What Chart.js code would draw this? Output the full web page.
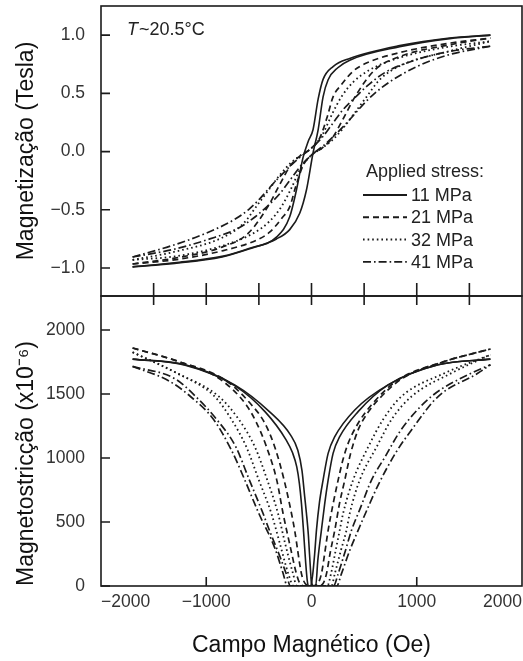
<!DOCTYPE html>
<html><head><meta charset="utf-8">
<script src="https://cdn.jsdelivr.net/npm/chart.js@4.4.0/dist/chart.umd.min.js"></script>
<style>
html,body{margin:0;padding:0;background:#fff;}
#wrap{position:relative;width:523px;height:661px;background:#fff;}
canvas{position:absolute;left:0;top:0;}
</style>
</head><body>
<div id="wrap"><canvas id="cBot" width="523" height="661"></canvas><canvas id="cTop" width="523" height="661"></canvas></div>
<script>
// ---------- data ----------
const stressLabels = ['11 MPa', '21 MPa', '32 MPa', '41 MPa'];
const xTickValues = [-2000, -1000, 0, 1000, 2000];
const xDividerTicks = [-1500, -1000, -500, 0, 500, 1000, 1500];
const xBottomTicks = [-1000, 0, 1000];
const magTickValues = [-1, -0.5, 0, 0.5, 1];
const lamTickValues = [0, 500, 1000, 1500, 2000];

// Magnetization (Tesla) vs field (Oe): descending (down) and ascending (up) branches
const magH11Down = [-1700, -1300, -850, -587, -333, -207, -143, -80, -30, 15, 63, 110, 205, 363, 838, 1313, 1700];
const magM11Down = [-0.99, -0.955, -0.90, -0.83, -0.735, -0.56, -0.33, -0.05, 0.09, 0.19, 0.45, 0.62, 0.73, 0.80, 0.91, 0.975, 1.00];
const magH11Up = [-1700, -1300, -850, -587, -333, -207, -112, -48, 15, 63, 110, 158, 250, 363, 838, 1313, 1700];
const magM11Up = [-0.99, -0.96, -0.905, -0.835, -0.75, -0.67, -0.53, -0.33, -0.01, 0.187, 0.47, 0.617, 0.72, 0.785, 0.90, 0.97, 1.00];

const magH21Down = [-1700, -1300, -850, -600, -413, -300, -200, -100, 0, 80, 150, 205, 284, 395, 522, 838, 1282, 1700];
const magM21Down = [-0.965, -0.915, -0.82, -0.70, -0.47, -0.28, -0.12, -0.03, 0.03, 0.12, 0.30, 0.47, 0.574, 0.69, 0.76, 0.85, 0.927, 0.975];
const magH21Up = [-1700, -1282, -838, -522, -395, -284, -205, -150, -80, 0, 100, 200, 300, 413, 600, 850, 1300, 1700];
const magM21Up = [-0.965, -0.927, -0.85, -0.76, -0.69, -0.574, -0.47, -0.30, -0.12, -0.03, 0.03, 0.12, 0.28, 0.47, 0.70, 0.82, 0.915, 0.975];

const magH32Down = [-1700, -1300, -850, -650, -523, -400, -300, -200, -100, 0, 100, 200, 284, 400, 550, 850, 1300, 1700];
const magM32Down = [-0.93, -0.86, -0.74, -0.62, -0.47, -0.32, -0.20, -0.10, -0.03, 0.03, 0.14, 0.33, 0.47, 0.60, 0.70, 0.81, 0.90, 0.947];
const magH32Up = [-1700, -1300, -850, -550, -400, -284, -200, -100, 0, 100, 200, 300, 400, 523, 650, 850, 1300, 1700];
const magM32Up = [-0.93, -0.90, -0.81, -0.70, -0.60, -0.47, -0.33, -0.14, -0.03, 0.03, 0.10, 0.20, 0.32, 0.47, 0.62, 0.74, 0.86, 0.947];

const magH41Down = [-1700, -1300, -1000, -745, -600, -518, -328, -138, 0, 100, 200, 300, 420, 550, 700, 966, 1313, 1700];
const magM41Down = [-0.905, -0.80, -0.70, -0.59, -0.50, -0.43, -0.24, -0.07, 0.03, 0.12, 0.24, 0.36, 0.47, 0.58, 0.68, 0.78, 0.86, 0.905];
const magH41Up = [-1700, -1313, -966, -700, -550, -420, -300, -200, -100, 0, 138, 328, 518, 600, 745, 1000, 1300, 1700];
const magM41Up = [-0.905, -0.84, -0.75, -0.66, -0.57, -0.47, -0.36, -0.24, -0.12, -0.03, 0.07, 0.24, 0.43, 0.50, 0.60, 0.73, 0.83, 0.905];

// Magnetostriction (x10^-6) vs field (Oe)
const lamH11Down = [-1700, -1200, -730, -440, -240, -180, -140, -115, -95, -75, -55, -40, -30, -10, 10, 30, 47, 75, 110, 158, 221, 411, 728, 1203, 1700];
const lamV11Down = [1772, 1725, 1565, 1360, 1140, 1040, 930, 800, 640, 420, 180, 40, 0, 0, 80, 250, 435, 650, 827, 1036, 1166, 1375, 1571, 1728, 1772];
const lamH11Up = [-1700, -1200, -730, -400, -200, -130, -90, -65, -48, -30, -17, 0, 20, 40, 60, 94, 125, 158, 205, 268, 443, 728, 1203, 1700];
const lamV11Up = [1772, 1728, 1571, 1362, 1180, 1060, 900, 700, 566, 400, 226, 30, 0, 0, 200, 435, 640, 827, 1036, 1166, 1362, 1571, 1728, 1772];

const lamH21Down = [-1700, -1266, -860, -620, -520, -428, -330, -270, -200, -143, -110, -60, 0, 60, 94, 130, 158, 205, 253, 300, 348, 443, 569, 822, 1266, 1700];
const lamV21Down = [1859, 1754, 1610, 1414, 1271, 1088, 827, 566, 300, 95, 20, 0, 0, 20, 95, 280, 435, 640, 827, 990, 1114, 1271, 1414, 1610, 1754, 1851];
const lamH21Up = [-1700, -1266, -822, -569, -443, -350, -260, -190, -160, -95, -60, 0, 60, 110, 142, 180, 221, 265, 316, 370, 443, 540, 664, 860, 1266, 1700];
const lamV21Up = [1859, 1754, 1610, 1414, 1271, 1088, 827, 566, 435, 95, 20, 0, 0, 20, 95, 270, 435, 640, 827, 1030, 1219, 1360, 1480, 1620, 1754, 1851];

const lamH32Down = [-1700, -1280, -920, -760, -620, -500, -381, -300, -220, -170, -60, 60, 150, 185, 230, 268, 300, 395, 540, 680, 854, 1266, 1700];
const lamV32Down = [1826, 1663, 1480, 1300, 1088, 827, 566, 330, 95, 0, 0, 0, 0, 95, 280, 435, 566, 827, 1088, 1300, 1480, 1663, 1806];
const lamH32Up = [-1700, -1280, -880, -690, -539, -420, -318, -250, -175, -140, -40, 80, 190, 221, 280, 332, 363, 458, 620, 760, 950, 1330, 1700];
const lamV32Up = [1826, 1663, 1480, 1300, 1088, 827, 566, 330, 95, 0, 0, 0, 0, 95, 280, 435, 566, 827, 1088, 1300, 1480, 1663, 1806];

const lamH41Down = [-1700, -1350, -1150, -930, -760, -640, -500, -350, -270, -230, -100, 50, 210, 253, 320, 380, 460, 570, 700, 850, 1139, 1520, 1700];
const lamV41Down = [1715, 1600, 1480, 1300, 1060, 840, 566, 300, 100, 0, 0, 0, 0, 95, 270, 435, 600, 827, 1010, 1219, 1480, 1663, 1728];
const lamH41Up = [-1700, -1300, -1100, -900, -720, -590, -460, -400, -300, -240, -200, -60, 100, 240, 284, 360, 443, 530, 640, 800, 950, 1203, 1583, 1700];
const lamV41Up = [1715, 1620, 1480, 1300, 1088, 827, 566, 435, 230, 95, 0, 0, 0, 0, 95, 270, 435, 600, 800, 1040, 1219, 1480, 1663, 1728];

// ---------- styling ----------
const FONT = "'Liberation Sans', Arial, Helvetica, sans-serif";
Chart.defaults.font.family = FONT;
const INK = '#1b1b1b';
const lineStyles = [
  { dash: [], width: 1.6 },
  { dash: [6, 4], width: 1.7 },
  { dash: [1.6, 3], width: 1.8 },
  { dash: [8, 3, 1.6, 3], width: 1.7 }
];

function pts(hs, vs) { return hs.map((h, i) => ({ x: h, y: vs[i] })); }
function branch(label, hs, vs, k) {
  return {
    label: label,
    data: pts(hs, vs),
    showLine: true,
    borderColor: INK,
    backgroundColor: INK,
    borderWidth: lineStyles[k].width,
    borderDash: lineStyles[k].dash,
    borderCapStyle: 'butt',
    pointRadius: 0,
    pointHoverRadius: 0,
    cubicInterpolationMode: 'monotone',
    fill: false
  };
}
const minus = v => (v < 0 ? '\u2212' : '') + Math.abs(v);

function drawFrame(chart, yTickLen) {
  const { ctx, chartArea: a, scales } = chart;
  ctx.save();
  ctx.strokeStyle = INK;
  ctx.lineWidth = 1.6;
  ctx.strokeRect(a.left, a.top, a.right - a.left, a.bottom - a.top);
  ctx.beginPath();
  for (const t of scales.y.ticks) {
    const py = scales.y.getPixelForValue(t.value);
    ctx.moveTo(a.left, py); ctx.lineTo(a.left + yTickLen, py);
  }
  ctx.stroke();
  ctx.restore();
}

const topFrame = {
  id: 'topFrame',
  afterDraw(chart) {
    drawFrame(chart, 9);
    const { ctx, chartArea: a, scales: { x } } = chart;
    ctx.save();
    ctx.strokeStyle = INK; ctx.lineWidth = 1.6;
    ctx.beginPath();
    for (const v of xDividerTicks) {
      const px = x.getPixelForValue(v);
      ctx.moveTo(px, a.bottom - 13); ctx.lineTo(px, a.bottom + 9);
    }
    ctx.stroke();
    // temperature note
    ctx.fillStyle = '#222';
    ctx.textBaseline = 'middle';
    ctx.font = 'italic 18px ' + FONT;
    const tx = a.left + 26, ty = a.top + 24;
    ctx.fillText('T', tx, ty);
    const w = ctx.measureText('T').width;
    ctx.font = '18px ' + FONT;
    ctx.fillText('~20.5\u00B0C', tx + w + 1, ty);
    // legend
    ctx.fillText('Applied stress:', a.left + 265, a.top + 166);
    stressLabels.forEach((lab, i) => {
      const ly = a.top + 189 + i * 22.3;
      ctx.save();
      ctx.lineWidth = lineStyles[i].width + 0.2;
      ctx.setLineDash(lineStyles[i].dash);
      ctx.beginPath();
      ctx.moveTo(a.left + 262, ly); ctx.lineTo(a.left + 306, ly);
      ctx.stroke();
      ctx.restore();
      ctx.fillText(lab, a.left + 310, ly + 1);
    });
    ctx.restore();
  }
};

const botFrame = {
  id: 'botFrame',
  afterDraw(chart) {
    drawFrame(chart, 9);
    const { ctx, chartArea: a, scales: { x } } = chart;
    ctx.save();
    ctx.strokeStyle = INK; ctx.lineWidth = 1.6;
    ctx.beginPath();
    for (const v of xBottomTicks) {
      const px = x.getPixelForValue(v);
      ctx.moveTo(px, a.bottom); ctx.lineTo(px, a.bottom - 9);
    }
    ctx.stroke();
    ctx.restore();
  }
};

const tickFont = { size: 17.5 };
const titleFont = { size: 23 };

// ---------- top chart: magnetization ----------
new Chart(document.getElementById('cTop'), {
  type: 'scatter',
  data: {
    datasets: [
      branch(stressLabels[0], magH11Down, magM11Down, 0),
      branch(stressLabels[0], magH11Up, magM11Up, 0),
      branch(stressLabels[1], magH21Down, magM21Down, 1),
      branch(stressLabels[1], magH21Up, magM21Up, 1),
      branch(stressLabels[2], magH32Down, magM32Down, 2),
      branch(stressLabels[2], magH32Up, magM32Up, 2),
      branch(stressLabels[3], magH41Down, magM41Down, 3),
      branch(stressLabels[3], magH41Up, magM41Up, 3)
    ]
  },
  options: {
    responsive: false,
    animation: false,
    events: [],
    layout: { padding: { top: 6, bottom: 365, left: 0, right: 1 } },
    plugins: { legend: { display: false }, tooltip: { enabled: false } },
    scales: {
      x: { type: 'linear', min: -2000, max: 2000, display: false },
      y: {
        type: 'linear', min: -1.24, max: 1.25,
        afterFit(s) { s.width = 101; s.paddingTop = 0; s.paddingBottom = 0; },
        afterBuildTicks(s) { s.ticks = magTickValues.map(v => ({ value: v })); },
        grid: { display: false, drawTicks: false },
        border: { display: false },
        ticks: { padding: 16, color: '#333', font: tickFont,
          callback: v => (v < 0 ? '\u2212' : '') + Math.abs(v).toFixed(1) },
        title: { display: true, text: 'Magnetização (Tesla)', color: '#111', font: titleFont,
          padding: { top: 13, bottom: 0 } }
      }
    }
  },
  plugins: [topFrame]
});

// ---------- bottom chart: magnetostriction ----------
new Chart(document.getElementById('cBot'), {
  type: 'scatter',
  data: {
    datasets: [
      branch(stressLabels[0], lamH11Down, lamV11Down, 0),
      branch(stressLabels[0], lamH11Up, lamV11Up, 0),
      branch(stressLabels[1], lamH21Down, lamV21Down, 1),
      branch(stressLabels[1], lamH21Up, lamV21Up, 1),
      branch(stressLabels[2], lamH32Down, lamV32Down, 2),
      branch(stressLabels[2], lamH32Up, lamV32Up, 2),
      branch(stressLabels[3], lamH41Down, lamV41Down, 3),
      branch(stressLabels[3], lamH41Up, lamV41Up, 3)
    ]
  },
  options: {
    responsive: false,
    animation: false,
    events: [],
    layout: { padding: { top: 296, bottom: 0, left: 0, right: 1 } },
    plugins: { legend: { display: false }, tooltip: { enabled: false } },
    scales: {
      x: {
        type: 'linear', min: -2000, max: 2000,
        afterFit(s) { s.height = 75; s.paddingLeft = 0; s.paddingRight = 0; },
        afterBuildTicks(s) { s.ticks = xTickValues.map(v => ({ value: v })); },
        grid: { display: false, drawTicks: false },
        border: { display: false },
        ticks: { padding: 6, align: 'inner', maxRotation: 0, autoSkip: false,
          color: '#333', font: tickFont, callback: v => minus(v) },
        title: { display: true, text: 'Campo Magnético (Oe)', color: '#111', font: titleFont,
          padding: { top: 0, bottom: 2 } }
      },
      y: {
        type: 'linear', min: 0, max: 2265,
        afterFit(s) { s.width = 101; s.paddingTop = 0; s.paddingBottom = 0; },
        afterBuildTicks(s) { s.ticks = lamTickValues.map(v => ({ value: v })); },
        grid: { display: false, drawTicks: false },
        border: { display: false },
        ticks: { padding: 16, color: '#333', font: tickFont, callback: v => String(v) },
        title: { display: true, text: 'Magnetostricção (x10\u207B\u2076)', color: '#111', font: titleFont,
          align: 'start', padding: { top: 13, bottom: 0 } }
      }
    }
  },
  plugins: [botFrame]
});
</script>
</body></html>
